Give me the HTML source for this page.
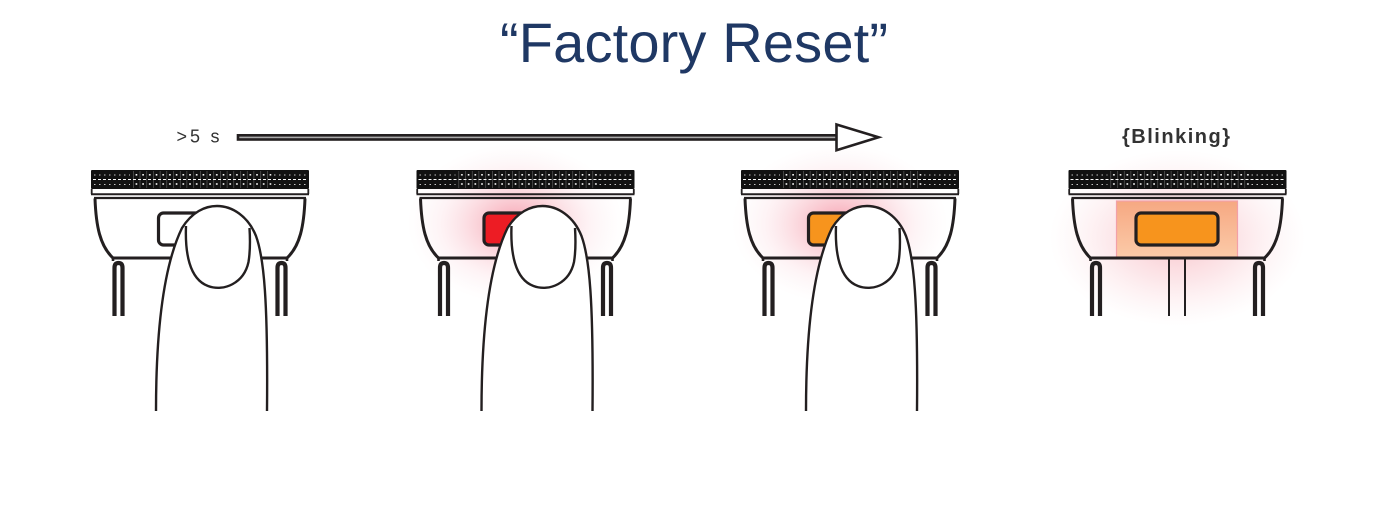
<!DOCTYPE html>
<html><head><meta charset="utf-8">
<style>html,body{margin:0;padding:0;background:#fff;overflow:hidden}svg{display:block}</style>
</head>
<body>
<svg xmlns="http://www.w3.org/2000/svg" width="1397" height="511" viewBox="0 0 1397 511">
<defs>
  <pattern id="holes" x="0" y="170" width="6.7" height="19" patternUnits="userSpaceOnUse">
    <rect width="6.7" height="19" fill="#111"/>
    <rect x="0" y="1" width="0.6" height="17" fill="#fff" opacity="0.35"/>
    <rect x="2.6" y="4" width="1.6" height="1.6" fill="#fff"/>
    <rect x="2.6" y="13.2" width="1.6" height="1.6" fill="#fff"/>
  </pattern>
  <radialGradient id="glow">
    <stop offset="0" stop-color="#ee4060" stop-opacity="0.5"/>
    <stop offset="0.35" stop-color="#f06a80" stop-opacity="0.3"/>
    <stop offset="0.7" stop-color="#f5a0b0" stop-opacity="0.12"/>
    <stop offset="1" stop-color="#f8c0c8" stop-opacity="0"/>
  </radialGradient>
  <radialGradient id="glow4">
    <stop offset="0" stop-color="#f07080" stop-opacity="0.42"/>
    <stop offset="0.5" stop-color="#f49aa6" stop-opacity="0.24"/>
    <stop offset="1" stop-color="#f8c0c8" stop-opacity="0"/>
  </radialGradient>
  <linearGradient id="peach" x1="0" y1="0" x2="0" y2="1">
    <stop offset="0" stop-color="#f6a882"/>
    <stop offset="1" stop-color="#fbcaa8"/>
  </linearGradient>

  <g id="dev" fill="none" stroke="#231f20">
    <rect x="-109" y="170" width="218" height="19" rx="1" fill="#111" stroke="none"/>
    <rect x="-68" y="170.5" width="140" height="18" fill="url(#holes)" stroke="none"/>
    <line x1="-107" y1="179.5" x2="107" y2="179.5" stroke="#fff" stroke-width="0.9" stroke-dasharray="3 2"/>
    <line x1="-106" y1="175" x2="-70" y2="175" stroke="#fff" stroke-width="0.7" stroke-dasharray="1.5 3.5"/>
    <line x1="74" y1="175" x2="106" y2="175" stroke="#fff" stroke-width="0.7" stroke-dasharray="1.5 3.5"/>
    <line x1="-106" y1="184.5" x2="-70" y2="184.5" stroke="#fff" stroke-width="0.7" stroke-dasharray="1.5 3.5"/>
    <line x1="74" y1="184.5" x2="106" y2="184.5" stroke="#fff" stroke-width="0.7" stroke-dasharray="1.5 3.5"/>
    <path d="M-108.3 189 V194 M108.3 189 V194" stroke-width="1.8"/>
    <line x1="-109" y1="194.3" x2="109" y2="194.3" stroke-width="2"/>
    <line x1="-106" y1="198" x2="106" y2="198" stroke-width="2.2"/>
    <path d="M-105 198.5 C-104 226 -100 246 -87 258 H87 C100 246 104 226 105 198.5" stroke-width="3"/>
    <!-- right leg -->
    <path d="M87 257 V261" stroke-width="2.6"/>
    <path d="M77.5 316 V268 Q77.5 263 81.5 263 Q85.5 263 85.5 268 V316" stroke-width="4.2"/>
    <!-- left leg -->
    <path d="M-87 257 V261" stroke-width="2.6"/>
    <path d="M-85.5 316 V268 Q-85.5 263 -81.5 263 Q-77.5 263 -77.5 268 V316" stroke-width="4.2"/>
  </g>

  <g id="finger" stroke="#231f20" stroke-width="2.4" fill="#fff">
    <path d="M-44 411 C-44 330 -36 265 -18 228 C-8 212 5 206 17 206 C32 206 48 216 56 236 C64 258 68 300 67 411"/>
    <path fill="none" d="M-14 226 C-15 252 -11 279 8 286 C24 292 44 283 48.5 262 C50.5 250 50 236 49.5 228"/>
  </g>
</defs>

<!-- Title -->
<text x="500" y="62" font-family="'Liberation Sans', Arial, sans-serif" font-size="56" fill="#1f3864" textLength="388" lengthAdjust="spacing">“Factory Reset”</text>

<!-- >5 s label -->
<text y="142.5" font-family="'Liberation Sans', Arial, sans-serif" font-size="18" fill="#333"><tspan x="176.5">&gt;</tspan><tspan x="190">5</tspan><tspan x="210.5">s</tspan></text>

<!-- Arrow -->
<rect x="238" y="135.3" width="599" height="4.2" fill="#aaa" stroke="#231f20" stroke-width="2.6"/>
<path d="M836.5 124.5 L878.5 137.3 L836.5 150.2 Z" fill="#fff" stroke="#231f20" stroke-width="2.6" stroke-linejoin="miter"/>

<!-- Blinking label -->
<text x="1122" y="143" font-family="'Liberation Sans', Arial, sans-serif" font-size="20" font-weight="bold" fill="#333" textLength="108" lengthAdjust="spacing">{Blinking}</text>

<!-- Device 1 -->
<g transform="translate(200,0)">
  <use href="#dev"/>
  <rect x="-41.5" y="213" width="82" height="32" rx="5" fill="#fff" stroke="#231f20" stroke-width="3.2"/>
  <use href="#finger"/>
</g>

<!-- Device 2 -->
<g transform="translate(525.5,0)">
  <ellipse cx="-10" cy="224" rx="108" ry="80" fill="url(#glow)"/>
  <use href="#dev"/>
  <rect x="-41.5" y="213" width="82" height="32" rx="5" fill="#ed1c24" stroke="#231f20" stroke-width="3.2"/>
  <use href="#finger"/>
</g>

<!-- Device 3 -->
<g transform="translate(850,0)">
  <ellipse cx="-10" cy="224" rx="108" ry="80" fill="url(#glow)"/>
  <use href="#dev"/>
  <rect x="-41.5" y="213" width="82" height="32" rx="5" fill="#f7941d" stroke="#231f20" stroke-width="3.2"/>
  <use href="#finger"/>
</g>

<!-- Device 4 -->
<g transform="translate(1177.5,0)">
  <ellipse cx="0" cy="238" rx="128" ry="88" fill="url(#glow4)"/>
  <rect x="-61" y="201" width="121" height="56" fill="url(#peach)" stroke="#f2a0a8" stroke-width="1.2"/>
  <use href="#dev"/>
  <line x1="-8.5" y1="258" x2="-8.5" y2="316" stroke="#231f20" stroke-width="2"/>
  <line x1="7.5" y1="258" x2="7.5" y2="316" stroke="#231f20" stroke-width="2"/>
  <rect x="-41.5" y="213" width="82" height="32" rx="5" fill="#f7941d" stroke="#231f20" stroke-width="3.2"/>
</g>
</svg>
</body></html>
